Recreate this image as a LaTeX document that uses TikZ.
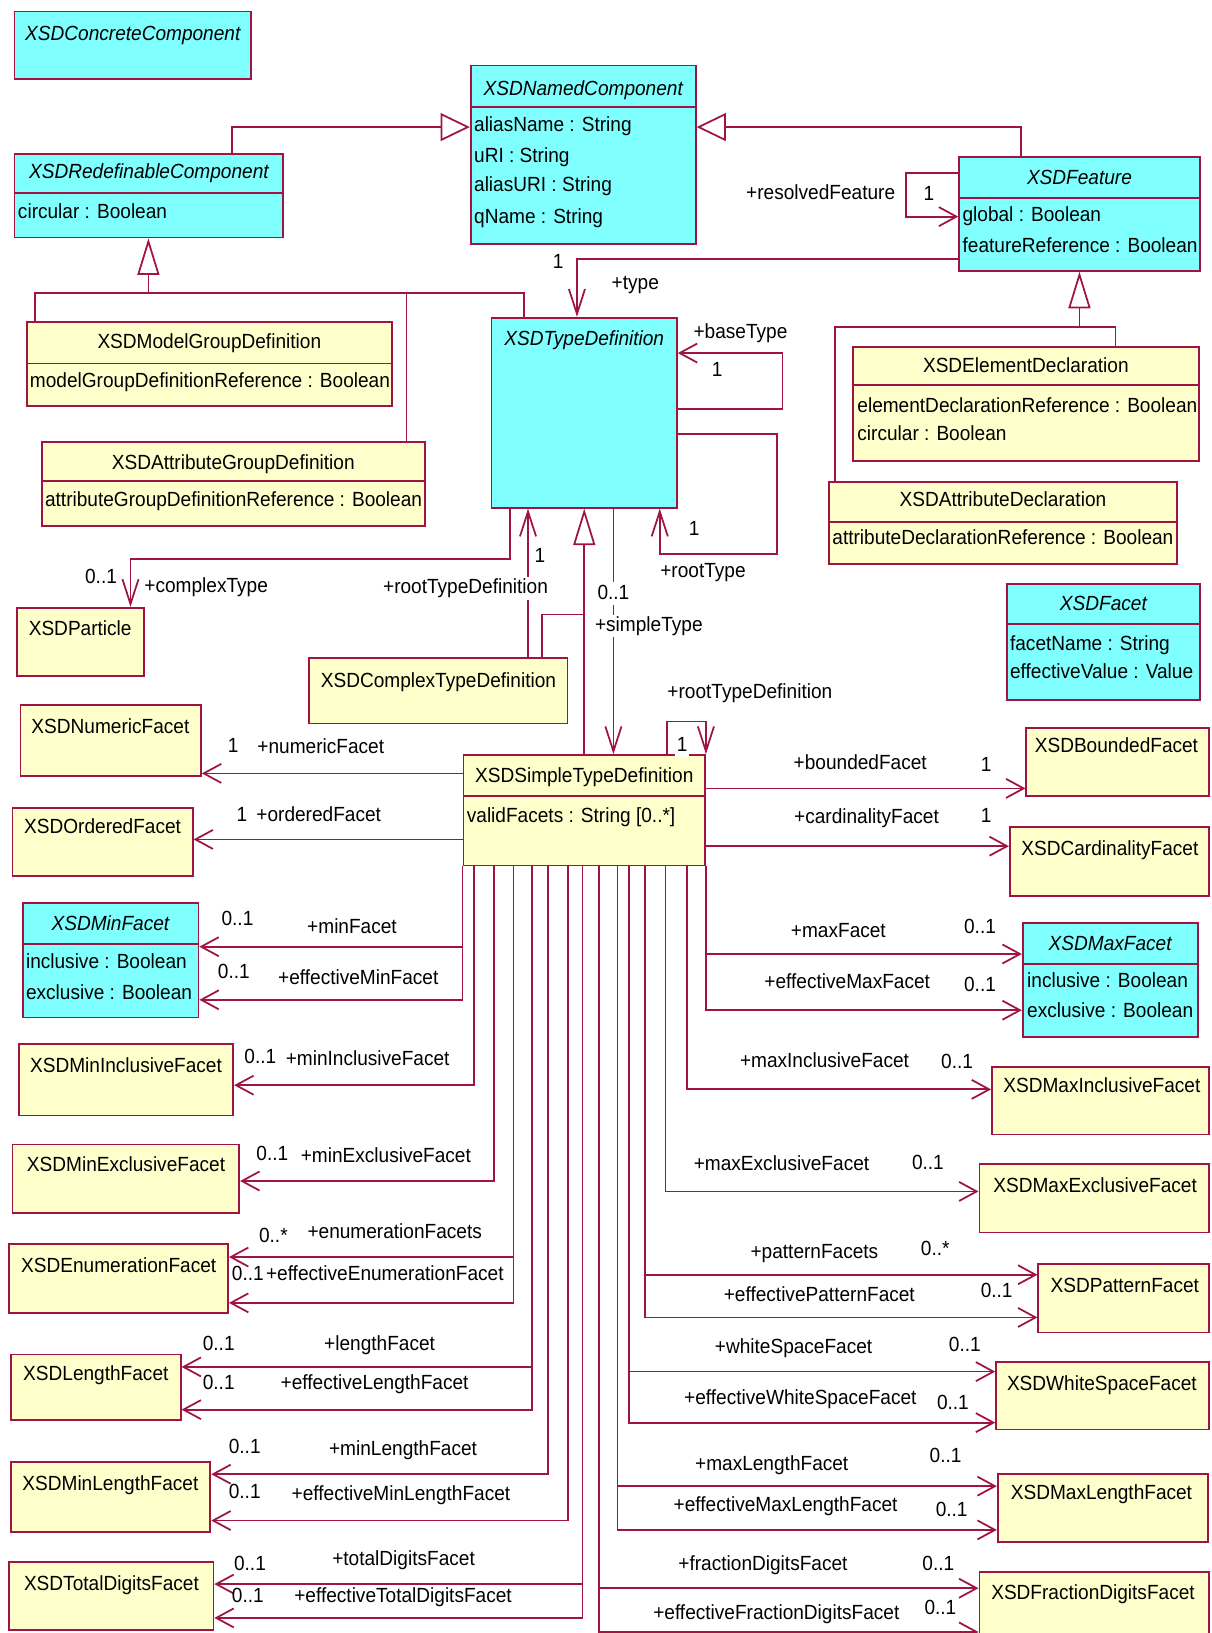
\documentclass[tikz,border=0pt]{standalone}
\usepackage{fontspec}
\setmainfont{Liberation Sans}[FakeStretch=0.93]
\usetikzlibrary{arrows.meta,fit}
\definecolor{umlline}{RGB}{160,20,68}
\definecolor{abscyan}{RGB}{128,255,255}
\definecolor{concyellow}{RGB}{255,255,204}

\begin{document}
\begin{tikzpicture}[x=0.025cm, y=-0.025cm, font=\fontsize{14}{17}\selectfont,
    umlbox/.style={draw=umlline, line width=1.2pt, inner sep=0pt, rectangle},
    abox/.style={umlbox, fill=abscyan},
    cbox/.style={umlbox, fill=concyellow},
    ttl/.style={inner sep=0pt, text height=10.5pt, text depth=3pt},
    attr/.style={ttl, anchor=west},
    lblw/.style={ttl, fill=white, inner sep=1pt},
    rule/.style={draw=umlline, line width=1.2pt},
    assoc/.style={rule, -{Straight Barb[length=12pt,width=13pt]}},
    assocv/.style={rule, -{Straight Barb[length=17pt,width=11pt]}},
    genh/.style={rule, -{Triangle[open,length=20pt,width=19pt]}},
    genv/.style={rule, -{Triangle[open,length=25pt,width=15pt]}}]
  \useasboundingbox (0,0) rectangle (1163,1568);
  \fill[white] (0,0) rectangle (1163,1568);

  % abstract classes
  \node[abox, fit={(14,11) (241,76)}] (concrete) {};
  \node[ttl] (concreteT) at (127.5,33.6) {\itshape XSDConcreteComponent};

  \node[abox, fit={(452,63) (668,234.6)}] (named) {};
  \node[ttl] (namedT) at (560,86) {\itshape XSDNamedComponent};
  \draw[rule] (named.west |- 0,103) -- (named.east |- 0,103);
  \node[attr] (namedA1) at (455,121) {aliasName : String};
  \node[attr] (namedA2) at (455,150.5) {uRI : String};
  \node[attr] (namedA3) at (455,179) {aliasURI : String};
  \node[attr] (namedA4) at (455,209.5) {qName : String};

  \node[abox, fit={(14,148) (272,228)}] (redef) {};
  \node[ttl] (redefT) at (143,166) {\itshape XSDRedefinableComponent};
  \draw[rule] (redef.west |- 0,185) -- (redef.east |- 0,185);
  \node[attr] (redefA1) at (17,205) {circular : Boolean};

  \node[abox, fit={(921,150.5) (1152,260)}] (feat) {};
  \node[ttl] (featT) at (1036.5,172) {\itshape XSDFeature};
  \draw[rule] (feat.west |- 0,190) -- (feat.east |- 0,190);
  \node[attr] (featA1) at (924,207) {global : Boolean};
  \node[attr] (featA2) at (924,237) {featureReference : Boolean};

  \node[abox, fit={(472,305) (650,487.5)}] (typedef) {};
  \node[ttl] (typedefT) at (561,326.5) {\itshape XSDTypeDefinition};

  \node[abox, fit={(967,561) (1152,672)}] (facet) {};
  \node[ttl] (facetT) at (1059.5,581) {\itshape XSDFacet};
  \draw[rule] (facet.west |- 0,599) -- (facet.east |- 0,599);
  \node[attr] (facetA1) at (969.6,619.5) {facetName : String};
  \node[attr] (facetA2) at (969.6,646.6) {effectiveValue : Value};

  \node[abox, fit={(22,867) (190.6,977)}] (minf) {};
  \node[ttl] (minfT) at (106,888) {\itshape XSDMinFacet};
  \draw[rule] (minf.west |- 0,906.7) -- (minf.east |- 0,906.7);
  \node[attr] (minfA1) at (24.7,924.5) {inclusive : Boolean};
  \node[attr] (minfA2) at (24.7,954) {exclusive : Boolean};

  \node[abox, fit={(982,886) (1150,996)}] (maxf) {};
  \node[ttl] (maxfT) at (1066,907.5) {\itshape XSDMaxFacet};
  \draw[rule] (maxf.west |- 0,925.8) -- (maxf.east |- 0,925.8);
  \node[attr] (maxfA1) at (986,942.7) {inclusive : Boolean};
  \node[attr] (maxfA2) at (986,972) {exclusive : Boolean};

  % concrete classes
  \node[cbox, fit={(26,309) (376.6,389.6)}] (mgd) {};
  \node[ttl] (mgdT) at (201,329) {XSDModelGroupDefinition};
  \draw[rule] (mgd.west |- 0,349) -- (mgd.east |- 0,349);
  \node[attr] (mgdA1) at (28.5,366.5) {modelGroupDefinitionReference : Boolean};

  \node[cbox, fit={(40,424.6) (408,504.8)}] (agd) {};
  \node[ttl] (agdT) at (224,446) {XSDAttributeGroupDefinition};
  \draw[rule] (agd.west |- 0,462) -- (agd.east |- 0,462);
  \node[attr] (agdA1) at (43,481) {attributeGroupDefinitionReference : Boolean};

  \node[cbox, fit={(819,333) (1151.5,443)}] (eld) {};
  \node[ttl] (eldT) at (985,352) {XSDElementDeclaration};
  \draw[rule] (eld.west |- 0,370) -- (eld.east |- 0,370);
  \node[attr] (eldA1) at (823,390.5) {elementDeclarationReference : Boolean};
  \node[attr] (eldA2) at (823,418) {circular : Boolean};

  \node[cbox, fit={(796,462.6) (1130,541.6)}] (atd) {};
  \node[ttl] (atdT) at (963,481) {XSDAttributeDeclaration};
  \draw[rule] (atd.west |- 0,501) -- (atd.east |- 0,501);
  \node[attr] (atdA1) at (799,518) {attributeDeclarationReference : Boolean};

  \node[cbox, fit={(16,583.6) (138.6,649)}] (particle) {};
  \node[ttl] (particleT) at (77,605) {XSDParticle};

  \node[cbox, fit={(297,632) (545,694.6)}] (ctd) {};
  \node[ttl] (ctdT) at (421,655) {XSDComplexTypeDefinition};

  \node[cbox, fit={(445,725) (677,831)}] (stype) {};
  \node[ttl] (stypeT) at (561,746) {XSDSimpleTypeDefinition};
  \draw[rule] (stype.west |- 0,764.5) -- (stype.east |- 0,764.5);
  \node[attr] (stypeA1) at (448,784) {validFacets : String [0..*]};

  \node[cbox, fit={(19.8,677) (193,745)}] (numf) {};
  \node[ttl] (numfT) at (106,699) {XSDNumericFacet};
  \node[cbox, fit={(12,775.6) (185,841)}] (ordf) {};
  \node[ttl] (ordfT) at (98.5,795.5) {XSDOrderedFacet};
  \node[cbox, fit={(18.2,1002.6) (224,1071)}] (mininc) {};
  \node[ttl] (minincT) at (121,1024.4) {XSDMinInclusiveFacet};
  \node[cbox, fit={(12,1099) (229.7,1164.6)}] (minexc) {};
  \node[ttl] (minexcT) at (121,1120) {XSDMinExclusiveFacet};
  \node[cbox, fit={(8.4,1194.8) (219,1261)}] (enumf) {};
  \node[ttl] (enumfT) at (114,1216.5) {XSDEnumerationFacet};
  \node[cbox, fit={(10.2,1300.6) (173.5,1363.7)}] (lenf) {};
  \node[ttl] (lenfT) at (92,1320.5) {XSDLengthFacet};
  \node[cbox, fit={(10.6,1403.7) (202,1471)}] (minlen) {};
  \node[ttl] (minlenT) at (106,1426) {XSDMinLengthFacet};
  \node[cbox, fit={(8.4,1499.7) (205,1565.4)}] (totdig) {};
  \node[ttl] (totdigT) at (107,1522) {XSDTotalDigitsFacet};

  \node[cbox, fit={(985.5,698.8) (1161,764)}] (boundf) {};
  \node[ttl] (boundfT) at (1072,717) {XSDBoundedFacet};
  \node[cbox, fit={(969.6,793.9) (1161,860.5)}] (cardf) {};
  \node[ttl] (cardfT) at (1065.7,816) {XSDCardinalityFacet};
  \node[cbox, fit={(952.5,1024.4) (1161,1089.3)}] (maxinc) {};
  \node[ttl] (maxincT) at (1058,1043.6) {XSDMaxInclusiveFacet};
  \node[cbox, fit={(940.4,1118) (1161,1183.4)}] (maxexc) {};
  \node[ttl] (maxexcT) at (1051.5,1139.6) {XSDMaxExclusiveFacet};
  \node[cbox, fit={(997,1214) (1161,1279.5)}] (patf) {};
  \node[ttl] (patfT) at (1080,1235.6) {XSDPatternFacet};
  \node[cbox, fit={(956.5,1307.7) (1161,1372.6)}] (wsf) {};
  \node[ttl] (wsfT) at (1058,1330) {XSDWhiteSpaceFacet};
  \node[cbox, fit={(958,1415.5) (1160,1480.5)}] (maxlen) {};
  \node[ttl] (maxlenT) at (1057.6,1434.7) {XSDMaxLengthFacet};
  \node[cbox, fit={(940.4,1509.4) (1161,1580)}] (fracd) {};
  \node[ttl] (fracdT) at (1049.5,1530.8) {XSDFractionDigitsFacet};

  % generalizations
  \draw[genh] (redef.north -| 223,0) |- (named.west |- 0,122);
  \draw[genh] (feat.north -| 980,0) |- (named.east |- 0,122);
  \coordinate (redefbus) at (142.5,281);
  \draw[genv] (redefbus) -- (redef.south -| redefbus);
  \draw[rule] (mgd.north -| 33.4,0) |- (redefbus) -| (typedef.north -| 503,0);
  \draw[rule] (agd.north -| 390.4,0) |- (redefbus);
  \coordinate (featbus) at (1036.5,314);
  \draw[genv] (featbus) -- (feat.south -| featbus);
  \draw[rule] (eld.north -| 1071,0) |- (featbus) -| (atd.north -| 802,0);
  \coordinate (typebus) at (561,590);
  \draw[rule] (ctd.north -| 520.5,0) |- (typebus);
  \draw[genv] (stype.north -| typebus) -- (typedef.south -| typebus);

  % associations round the type definitions
  \draw[assoc] (feat.west |- 0,166) -- ++(-50,0) |- (feat.west |- 0,208);
  \draw[assocv] (feat.west |- 0,249) -| (typedef.north -| 554,0);
  \draw[assoc] (typedef.east |- 0,393) -- ++(100.5,0) |- (typedef.east |- 0,339);
  \draw[assocv] (typedef.east |- 0,417) -- ++(95,0) -- ++(0,115) -| (typedef.south -| 633.5,0);
  \draw[assocv] (typedef.south -| 490,0) -- ++(0,48.5) -| (particle.north -| 125.3,0);
  \draw[assocv] (ctd.north -| 507,0) -- (typedef.south -| 507,0);
  \draw[assocv] (typedef.south -| 589,0) -- (stype.north -| 589,0);
  \draw[assocv] (stype.north -| 640.6,0) -- ++(0,-31.3) -| (stype.north east);

  % facets on the left
  \draw[assoc] (stype.west |- 0,742.6) -- (numf.east |- 0,742.6);
  \draw[assoc] (stype.west |- 0,806) -- (ordf.east |- 0,806);
  \draw[assoc] (stype.south west) |- (minf.east |- 0,909);
  \draw[assoc] (stype.south west) |- (minf.east |- 0,960);
  \draw[assoc] (stype.south -| 455,0) |- (mininc.east |- 0,1042);
  \draw[assoc] (stype.south -| 474,0) |- (minexc.east |- 0,1134);
  \draw[assoc] (stype.south -| 493,0) |- (enumf.east |- 0,1207);
  \draw[assoc] (stype.south -| 493,0) |- (enumf.east |- 0,1251);
  \draw[assoc] (stype.south -| 511,0) |- (lenf.east |- 0,1312.5);
  \draw[assoc] (stype.south -| 511,0) |- (lenf.east |- 0,1353.5);
  \draw[assoc] (stype.south -| 526.5,0) |- (minlen.east |- 0,1415.5);
  \draw[assoc] (stype.south -| 545.5,0) |- (minlen.east |- 0,1460);
  \draw[assoc] (stype.south -| 559.4,0) |- (totdig.east |- 0,1521);
  \draw[assoc] (stype.south -| 559.4,0) |- (totdig.east |- 0,1553.5);

  % facets on the right
  \draw[assoc] (stype.east |- 0,757) -- (boundf.west |- 0,757);
  \draw[assoc] (stype.east |- 0,812.5) -- (cardf.west |- 0,812.5);
  \draw[assoc] (stype.south east) |- (maxf.west |- 0,916);
  \draw[assoc] (stype.south east) |- (maxf.west |- 0,970);
  \draw[assoc] (stype.south -| 660,0) |- (maxinc.west |- 0,1046);
  \draw[assoc] (stype.south -| 639,0) |- (maxexc.west |- 0,1144);
  \draw[assoc] (stype.south -| 619.5,0) |- (patf.west |- 0,1224);
  \draw[assoc] (stype.south -| 619.5,0) |- (patf.west |- 0,1265);
  \draw[assoc] (stype.south -| 604,0) |- (wsf.west |- 0,1317);
  \draw[assoc] (stype.south -| 604,0) |- (wsf.west |- 0,1366);
  \draw[assoc] (stype.south -| 593,0) |- (maxlen.west |- 0,1427);
  \draw[assoc] (stype.south -| 593,0) |- (maxlen.west |- 0,1469);
  \draw[assoc] (stype.south -| 575,0) |- (fracd.west |- 0,1525);
  \draw[assoc] (stype.south -| 575,0) |- (fracd.west |- 0,1567);

  % role names and multiplicities
  \node[lblw] (rtdLbl) at (447,565) {+rootTypeDefinition};
  \node[lblw] (stMul) at (589,570) {0..1};
  \node[lblw] (stLbl) at (623,601) {+simpleType};
  \node[lblw] (srtMul) at (655,716) {1};
  \foreach \lx/\ly/\lt [count=\k] in {788/186/+resolvedFeature, 892/187/1,
      536/253/1, 610/273/+type, 711/319.5/+baseType, 688.6/356/1,
      666.6/509/1, 675/549/+rootType, 97/555/0..1, 198/563.6/+complexType,
      518.5/534.5/1, 720/665.6/+rootTypeDefinition,
      224/717/1, 308/718.7/+numericFacet, 232.4/783.6/1, 306/783.6/+orderedFacet,
      228/883.5/0..1, 338/891.5/+minFacet, 224.5/934.7/0..1, 344/939.6/+effectiveMinFacet,
      250/1016/0..1, 353/1018/+minInclusiveFacet, 261.5/1109/0..1, 370.5/1111/+minExclusiveFacet,
      262.5/1187.7/0..*, 379/1184/+enumerationFacets, 238/1224.4/0..1, 369.5/1224.4/+effectiveEnumerationFacet,
      210/1291.7/0..1, 364.5/1291.7/+lengthFacet, 210/1329/0..1, 359.7/1329/+effectiveLengthFacet,
      235/1390/0..1, 387/1392.5/+minLengthFacet, 235/1433.5/0..1, 385/1435.7/+effectiveMinLengthFacet,
      240/1503/0..1, 387.5/1498/+totalDigitsFacet, 238/1533.4/0..1, 387/1533.4/+effectiveTotalDigitsFacet,
      826/733.7/+boundedFacet, 947/735.6/1, 832/785.9/+cardinalityFacet, 947/784/1,
      805/895.3/+maxFacet, 941/891.5/0..1, 813.5/944/+effectiveMaxFacet, 941/947/0..1,
      791.7/1020/+maxInclusiveFacet, 919/1021/0..1, 750.4/1118.8/+maxExclusiveFacet, 891/1117.8/0..1,
      782/1203/+patternFacets, 898/1200/0..*, 786.7/1244.6/+effectivePatternFacet, 957/1240.5/0..1,
      762/1293.9/+whiteSpaceFacet, 926.4/1292.6/0..1, 768.5/1343.5/+effectiveWhiteSpaceFacet, 915/1347.7/0..1,
      741/1406.9/+maxLengthFacet, 908/1398.9/0..1, 754.3/1446.3/+effectiveMaxLengthFacet, 913.8/1450.8/0..1,
      732.6/1503/+fractionDigitsFacet, 901/1503/0..1, 745.4/1549.4/+effectiveFractionDigitsFacet, 903/1544.5/0..1}
    \node[ttl] (lbl\k) at (\lx,\ly) {\lt};
\end{tikzpicture}
\end{document}
